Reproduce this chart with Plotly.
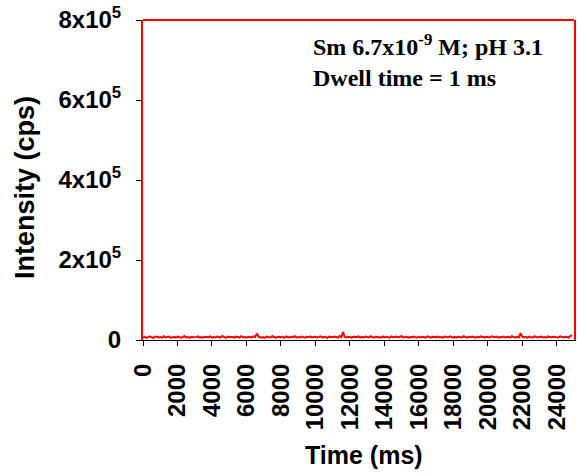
import plotly.graph_objects as go

# Time trace sampled every 100 ms, intensity in counts per second
time_ms = list(range(0, 25000, 100))
intensity_cps = [
    6200, 8100, 5400, 7600, 9200, 6800, 5100, 7900, 8600, 6300,
    7200, 5800, 9400, 6600, 7100, 8800, 5600, 6900, 7700, 6100,
    8400, 7300, 5900, 6700, 9800, 6400, 7500, 5300, 8200, 7000,
    6500, 7800, 8900, 6000, 7400, 5700, 8300, 6800, 7200, 9100,
    5800, 7600, 6300, 8700, 7100, 6200, 10200, 6900, 5500, 7900,
    8000, 6600, 7300, 5900, 8500, 7700, 6100, 9300, 6700, 7400,
    5600, 8100, 7000, 6400, 9000, 7500, 16000, 8200, 6300, 7100,
    6900, 5800, 8600, 7200, 6500, 9500, 7800, 6000, 7400, 8300,
    6200, 7700, 5500, 8800, 7100, 6600, 8000, 7300, 9700, 6400,
    7600, 6100, 8400, 7000, 5700, 7900, 6800, 8900, 6300, 7500,
    8100, 6500, 7200, 9200, 6000, 7800, 6900, 5400, 8300, 7100,
    6700, 8600, 7400, 6200, 9900, 7000, 20000, 7600, 6400, 8200,
    7300, 5900, 8000, 6800, 7500, 9100, 6100, 7900, 6600, 8500,
    7100, 6300, 9400, 7700, 5800, 8200, 6900, 7400, 6000, 8700,
    6500, 7800, 7200, 5600, 8900, 6700, 7600, 8400, 6200, 7000,
    9600, 6400, 7300, 8100, 5900, 7500, 6800, 8600, 7100, 6300,
    7900, 6600, 8300, 7000, 6100, 9300, 7400, 5700, 8000, 6900,
    7200, 8800, 6400, 7600, 6000, 8500, 7100, 6700, 9000, 7300,
    5800, 7700, 6500, 8200, 7000, 6300, 9500, 7400, 6100, 7900,
    6800, 8400, 7200, 5600, 7800, 6600, 8900, 7100, 6400, 8100,
    7500, 6200, 9200, 7000, 6700, 8300, 5900, 7600, 6900, 8700,
    6400, 7300, 8000, 6100, 9700, 7200, 6600, 7900, 6300, 17000,
    8200, 6800, 7400, 5800, 8600, 7100, 6500, 9100, 7000, 6200,
    7700, 8500, 6400, 7200, 6000, 8800, 7300, 6700, 8100, 6900,
    7400, 6300, 9300, 7000, 6600, 8200, 7800, 6100, 10500, 12000,
]

x_ticks = list(range(0, 25000, 2000))
x_tick_text = [str(v) for v in x_ticks]
y_ticks = [0, 200000, 400000, 600000, 800000]
y_tick_text = ["0", "2x10<sup>5</sup>", "4x10<sup>5</sup>",
               "6x10<sup>5</sup>", "8x10<sup>5</sup>"]

sans_bold = dict(family="Liberation Sans, Arial, sans-serif", size=24,
                 color="black", weight="bold")
serif_bold = dict(family="Liberation Serif, Times New Roman, serif", size=24,
                  color="black", weight="bold")

fig = go.Figure()
fig.add_trace(go.Scatter(
    x=time_ms, y=intensity_cps, mode="lines",
    line=dict(color="#ff0000", width=2),
    showlegend=False,
))

fig.update_layout(
    width=579, height=476,
    margin=dict(l=143, r=3, t=19, b=136),
    paper_bgcolor="white", plot_bgcolor="white",
    xaxis=dict(
        range=[0, 25000], tickvals=x_ticks, ticktext=x_tick_text,
        tickangle=-90, tickfont=sans_bold,
        showgrid=False, zeroline=False,
        showline=True, linecolor="black", linewidth=1, mirror=False,
        ticks="outside", ticklen=5, tickcolor="black", tickwidth=1,
        ticklabelstandoff=8,
    ),
    yaxis=dict(
        range=[0, 800000], tickvals=y_ticks, ticktext=y_tick_text,
        tickfont=sans_bold,
        showgrid=False, zeroline=False,
        showline=True, linecolor="#ff0000", linewidth=2, mirror=True,
        ticks="outside", ticklen=5, tickcolor="black", tickwidth=1,
        ticklabelstandoff=10,
    ),
    shapes=[dict(type="line", xref="paper", yref="paper",
                 x0=0, x1=1, y0=1, y1=1,
                 line=dict(color="#ff0000", width=2))],
    annotations=[
        dict(text="Time (ms)", xref="paper", yref="paper",
             x=(365 - 143) / 433, y=-(455 - 340) / 321,
             xanchor="center", yanchor="middle", showarrow=False,
             font=dict(sans_bold, size=25)),
        dict(text="Intensity (cps)", xref="paper", yref="paper",
             x=-(143 - 25) / 433, y=(340 - 187) / 321, textangle=-90,
             xanchor="center", yanchor="middle", showarrow=False,
             font=dict(sans_bold, size=27)),
        dict(text="Sm 6.7x10<sup>-9</sup> M; pH 3.1", xref="paper", yref="paper",
             x=(312 - 143) / 433, y=(340 - 44) / 321,
             xanchor="left", yanchor="middle", showarrow=False,
             font=serif_bold),
        dict(text="Dwell time = 1 ms", xref="paper", yref="paper",
             x=(312 - 143) / 433, y=(340 - 77) / 321,
             xanchor="left", yanchor="middle", showarrow=False,
             font=serif_bold),
    ],
)

fig.write_html("out.html")
